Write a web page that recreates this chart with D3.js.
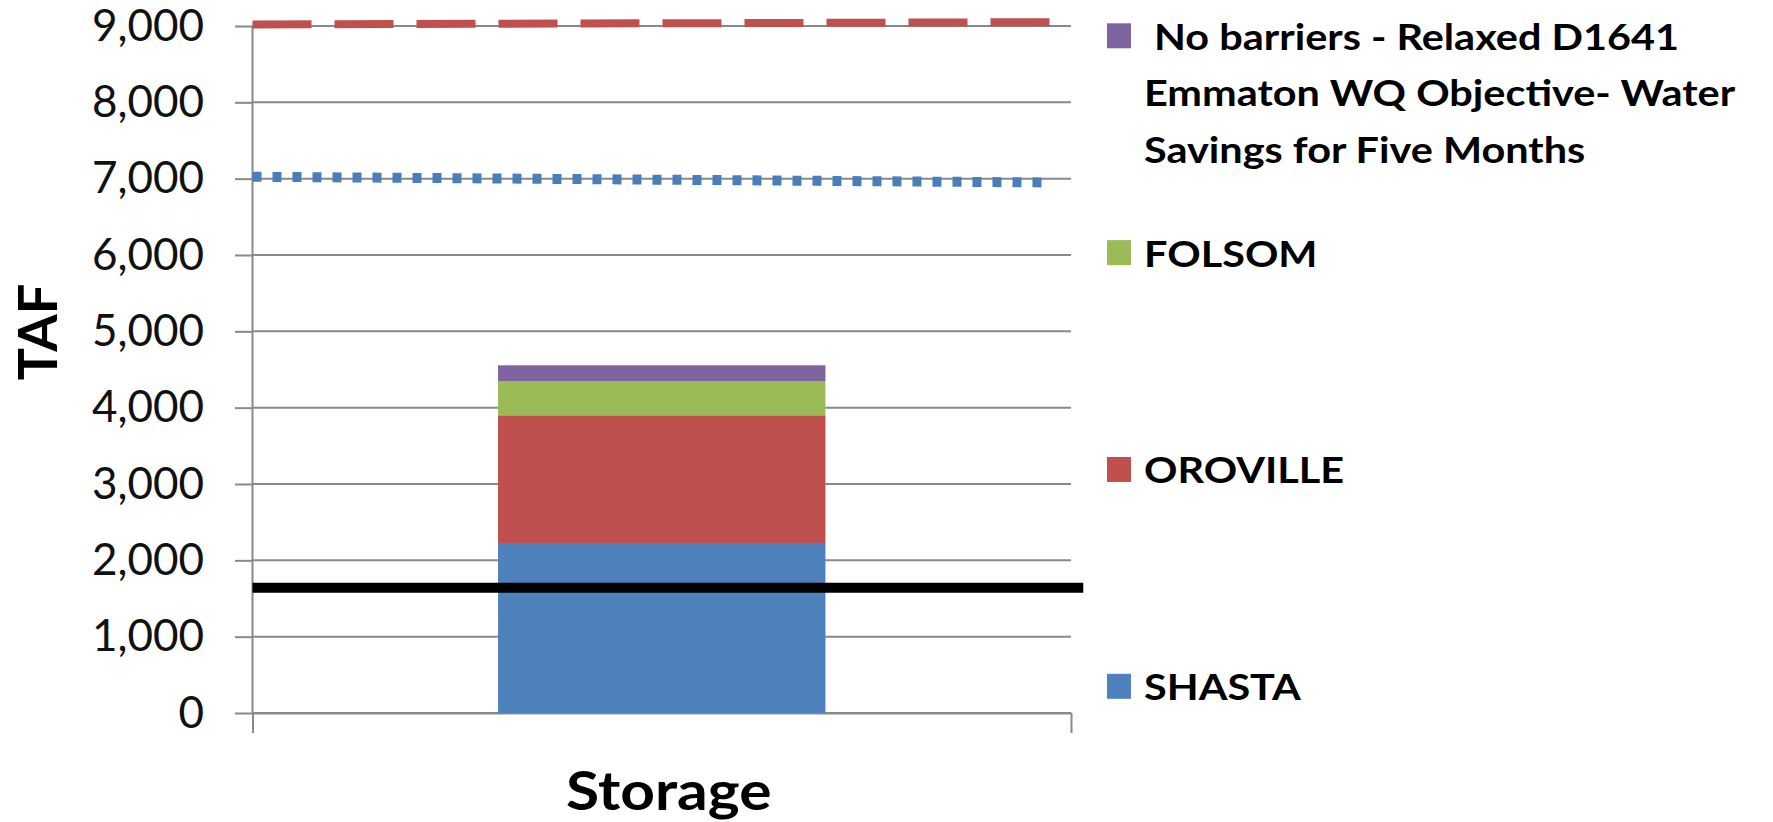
<!DOCTYPE html>
<meta charset="utf-8">
<script src="https://cdn.jsdelivr.net/npm/d3@7"></script>
<style>
  body { margin: 0; background: #fff; }
  text { font-family: Lato, "Open Sans", sans-serif; }
</style>
<div id="chart"></div>
<script>
// data
const categories = ["Storage"];
const seriesKeys = ["SHASTA", "OROVILLE", "FOLSOM", "NoBarriers"];
const storageValues = [2215, 1685, 445, 210];
const legendOrder = ["NoBarriers", "FOLSOM", "OROVILLE", "SHASTA"];
const legendLabels = [
    [" No barriers - Relaxed D1641", "Emmaton WQ Objective- Water", "Savings for Five Months"],
    ["FOLSOM"],
    ["OROVILLE"],
    ["SHASTA"]
];
const yTickValues = [0, 1000, 2000, 3000, 4000, 5000, 6000, 7000, 8000, 9000];

// reference lines: x is a fraction of the category axis, v in TAF
const capacityX = [0, 0.975];
const capacityV = [9020, 9050];
const targetX = [0, 0.975];
const targetV = [7025, 6950];
const minimumX = [0, 1.015];
const minimumV = [1640, 1640];

const colors = {
    SHASTA: "#4F81BD",
    OROVILLE: "#C0504D",
    FOLSOM: "#9BBB59",
    NoBarriers: "#8064A2"
};

// set the dimensions and margins of the graph
const margin = { top: 26, right: 702, bottom: 109, left: 252.5 },
    width = 1773 - margin.left - margin.right,
    height = 822 - margin.top - margin.bottom;

// the original text is a bit wider than Lato, stretch it a little
const stretch = 1.12;

const svg = d3.select("#chart")
    .append("svg")
    .attr("width", 1773)
    .attr("height", 822);

const g = svg.append("g")
    .attr("transform", `translate(${margin.left},${margin.top})`);

// scales
const x = d3.scaleBand()
    .domain(categories)
    .range([0, width])
    .paddingInner(0.6)
    .paddingOuter(0.3);

const xEdge = d3.scaleLinear()
    .domain([0, 1])
    .range([0, width]);

const y = d3.scaleLinear()
    .domain([0, 9000])
    .range([height, 0]);

const gridColor = "#898989";

// gridlines
g.append("g")
    .selectAll("line")
    .data(yTickValues)
    .join("line")
    .attr("x1", 0)
    .attr("x2", width)
    .attr("y1", d => y(d))
    .attr("y2", d => y(d))
    .attr("stroke", gridColor)
    .attr("stroke-width", 2);

// Y axis
const yAxis = g.append("g")
    .call(d3.axisLeft(y)
        .tickValues(yTickValues)
        .tickFormat(d3.format(","))
        .tickSize(17.5)
        .tickPadding(31));
yAxis.select(".domain").remove();
yAxis.selectAll("line").attr("stroke", gridColor).attr("stroke-width", 2);
yAxis.selectAll("text")
    .style("font-size", "44px")
    .attr("fill", "#111");

// X axis, ticks at the category edges
const xAxis = g.append("g")
    .attr("transform", `translate(0,${height})`)
    .call(d3.axisBottom(xEdge)
        .tickValues([0, 1])
        .tickSize(20)
        .tickSizeOuter(0)
        .tickFormat(""));
xAxis.select(".domain").attr("stroke", gridColor).attr("stroke-width", 2);
xAxis.selectAll("line").attr("stroke", gridColor).attr("stroke-width", 2);

// vertical axis line
g.append("line")
    .attr("x1", 0)
    .attr("x2", 0)
    .attr("y1", 0)
    .attr("y2", height)
    .attr("stroke", gridColor)
    .attr("stroke-width", 2);

// stacked bar
const row = { category: categories[0] };
seriesKeys.forEach((k, i) => { row[k] = storageValues[i]; });
const stacked = d3.stack().keys(seriesKeys)([row]);

g.append("g")
    .selectAll("g")
    .data(stacked)
    .join("g")
    .attr("fill", d => colors[d.key])
    .selectAll("rect")
    .data(d => d)
    .join("rect")
    .attr("x", d => x(d.data.category))
    .attr("y", d => y(d[1]))
    .attr("width", x.bandwidth())
    .attr("height", d => y(d[0]) - y(d[1]));

// reference lines
const line = d3.line()
    .x(d => xEdge(d[0]))
    .y(d => y(d[1]));

g.append("path")
    .datum(d3.zip(capacityX, capacityV))
    .attr("d", line)
    .attr("fill", "none")
    .attr("stroke", "#C0504D")
    .attr("stroke-width", 8)
    .attr("stroke-dasharray", "59 23");

g.append("path")
    .datum(d3.zip(targetX, targetV))
    .attr("d", line)
    .attr("fill", "none")
    .attr("stroke", "#4A7EBB")
    .attr("stroke-width", 10)
    .attr("stroke-dasharray", "9 11");

g.append("path")
    .datum(d3.zip(minimumX, minimumV))
    .attr("d", line)
    .attr("fill", "none")
    .attr("stroke", "#000")
    .attr("stroke-width", 10);

// axis titles
svg.append("text")
    .attr("transform", "translate(36,332) rotate(-90)")
    .attr("text-anchor", "middle")
    .attr("dominant-baseline", "central")
    .style("font-size", "54px")
    .style("font-weight", "bold")
    .text("TAF");

g.append("text")
    .attr("transform", `translate(${x(categories[0]) + x.bandwidth() / 2 + 7},${height + 97}) scale(${stretch},1)`)
    .attr("text-anchor", "middle")
    .style("font-size", "54px")
    .style("font-weight", "bold")
    .text(categories[0]);

// legend
const legendY = d3.scalePoint()
    .domain(legendOrder)
    .range([35.8, 686.3]);

const legend = svg.append("g");

legendOrder.forEach((key, i) => {
    const cy = legendY(key);
    legend.append("rect")
        .attr("x", 1107)
        .attr("y", cy - 12.5)
        .attr("width", 24)
        .attr("height", 25)
        .attr("fill", colors[key]);

    legend.append("g")
        .attr("transform", `translate(1144,${cy + 14}) scale(${stretch},1)`)
        .selectAll("text")
        .data(legendLabels[i])
        .join("text")
        .attr("x", 0)
        .attr("y", (d, j) => j * 56.5)
        .style("font-size", "37px")
        .style("font-weight", "bold")
        .style("white-space", "pre")
        .attr("fill", "#000")
        .text(d => d);
});
</script>
